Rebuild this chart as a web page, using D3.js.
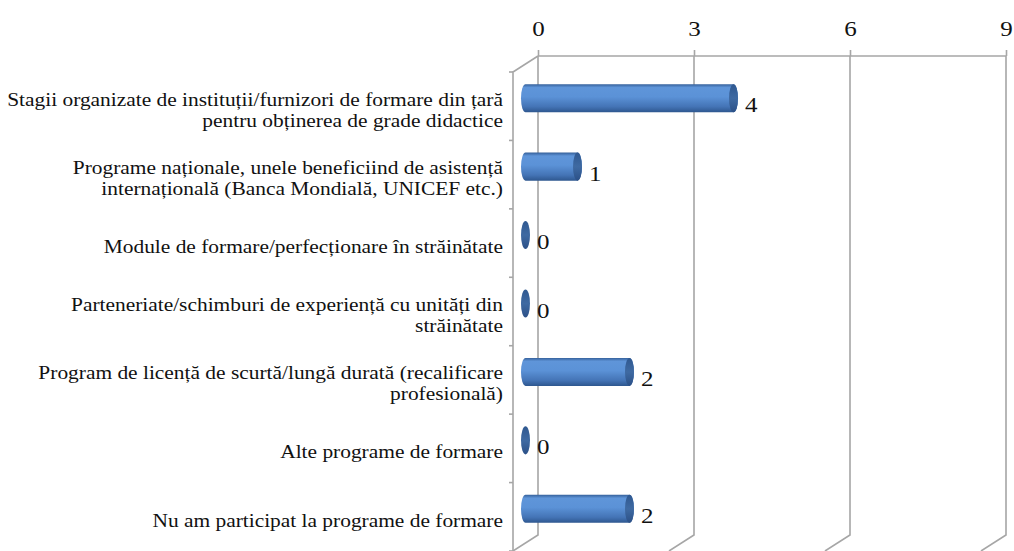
<!DOCTYPE html>
<html>
<head>
<meta charset="utf-8">
<script src="https://cdn.jsdelivr.net/npm/d3@7"></script>
<style>
  body { margin: 0; background: #fff; }
</style>
</head>
<body>
<script>
// chart data
const categories = [
  "Stagii organizate de instituții/furnizori de formare din țară\npentru obținerea de grade didactice",
  "Programe naționale, unele beneficiind de asistență\ninternațională (Banca Mondială, UNICEF etc.)",
  "Module de formare/perfecționare în străinătate",
  "Parteneriate/schimburi de experiență cu unități din\nstrăinătate",
  "Program de licență de scurtă/lungă durată (recalificare\nprofesională)",
  "Alte programe de formare",
  "Nu am participat la programe de formare"
];
const values = [4, 1, 0, 0, 2, 0, 2];
const xTicks = [0, 3, 6, 9];

const WIDTH = 1014;
const HEIGHT = 551;
const BACK_LEFT = 538, BACK_RIGHT = 1006;
const BACK_TOP = 56, BACK_BOTTOM = 535;
const DX = -25, DY = 16;      // depth offset back wall -> front
const BAR_DEPTH = 0.5;        // where the cylinders sit inside the depth
const GRID = "#a6a6a6";
const FONT = "'Liberation Serif', 'Times New Roman', serif";
const STRETCH = 1.19;         // the original picture is stretched sideways

let svg = d3.select("body").append("svg")
  .attr("width", WIDTH)
  .attr("height", HEIGHT)
  .style("font-family", FONT);

let defs = svg.append("defs");
let grad = defs.append("linearGradient")
  .attr("id", "cyl").attr("x1", 0).attr("y1", 0).attr("x2", 0).attr("y2", 1);
[[0, "#35609a"], [0.12, "#5f95d9"], [0.45, "#5b92d7"], [0.8, "#4474b6"], [1, "#2e578f"]]
  .forEach(s => grad.append("stop").attr("offset", s[0]).attr("stop-color", s[1]));
let capGrad = defs.append("linearGradient")
  .attr("id", "cap").attr("x1", 0).attr("y1", 0).attr("x2", 0).attr("y2", 1);
[[0, "#2f5890"], [0.5, "#3f6aa2"], [1, "#2b5087"]]
  .forEach(s => capGrad.append("stop").attr("offset", s[0]).attr("stop-color", s[1]));

let x = d3.scaleLinear().domain([0, 9]).range([BACK_LEFT, BACK_RIGHT]);
let y = d3.scaleBand().domain(categories).range([BACK_TOP, BACK_BOTTOM]);

// walls / gridlines
let walls = svg.append("g").attr("stroke", GRID).attr("stroke-width", 1.6).attr("fill", "none");
walls.append("line")
  .attr("x1", BACK_LEFT).attr("x2", BACK_RIGHT)
  .attr("y1", BACK_TOP).attr("y2", BACK_TOP);
xTicks.forEach(t => {
  walls.append("path")
    .attr("d", `M${x(t)},${BACK_TOP}V${BACK_BOTTOM}l${DX},${DY}`);
});
walls.append("path")
  .attr("d", `M${x(0)},${BACK_TOP}l${DX},${DY}V${BACK_BOTTOM + DY}`);

// category ticks on front edge
let bounds = categories.map(c => y(c)).concat([BACK_BOTTOM]);
walls.selectAll(".ctick").data(bounds).enter().append("line")
  .attr("x1", BACK_LEFT + DX - 4).attr("x2", BACK_LEFT + DX)
  .attr("y1", d => d + DY).attr("y2", d => d + DY);

// top axis
let axis = d3.axisTop(x).tickValues(xTicks).tickSize(6).tickPadding(14);
let axisG = svg.append("g").attr("transform", `translate(0,${BACK_TOP})`).call(axis);
axisG.attr("font-family", null);
axisG.select(".domain").remove();
axisG.selectAll(".tick line").attr("stroke", GRID).attr("stroke-width", 1.6);
axisG.selectAll(".tick text")
  .attr("font-size", 21).attr("fill", "#111")
  .attr("transform", `scale(${STRETCH},1)`)
  .style("font-family", FONT);

// category labels
let labels = svg.append("g");
categories.forEach(c => {
  let lines = c.split("\n");
  let cy = y(c) + y.bandwidth() / 2 + DY + 4;
  let t = labels.append("text")
    .attr("text-anchor", "end")
    .attr("font-size", 18)
    .attr("transform", `translate(503,${cy}) scale(${STRETCH},1)`)
    .style("font-family", FONT)
    .attr("fill", "#111");
  lines.forEach((ln, i) => {
    t.append("tspan")
      .attr("x", 0)
      .attr("y", (i - (lines.length - 1) / 2) * 21 + 6)
      .text(ln);
  });
});

// cylinders
const bx = DX * BAR_DEPTH, by = DY * BAR_DEPTH;
const barH = y.bandwidth() * 0.41;
const rx = 4.5;
let bars = svg.append("g");
categories.forEach((c, i) => {
  let cy = y(c) + y.bandwidth() / 2 + by;
  let x0 = x(0) + bx;
  let x1 = x(values[i]) + bx;
  let g = bars.append("g");
  if (values[i] > 0) {
    g.append("path")
      .attr("d", `M${x0},${cy - barH / 2}H${x1}` +
        `A${rx},${barH / 2} 0 0 1 ${x1},${cy + barH / 2}` +
        `H${x0}A${rx},${barH / 2} 0 0 1 ${x0},${cy - barH / 2}Z`)
      .attr("fill", "url(#cyl)");
  }
  g.append("ellipse")
    .attr("cx", x1).attr("cy", cy)
    .attr("rx", rx).attr("ry", barH / 2)
    .attr("fill", "url(#cap)");
  svg.append("text")
    .attr("transform", `translate(${x1 + rx + 7},${cy + 14}) scale(${STRETCH},1)`)
    .attr("font-size", 21)
    .style("font-family", FONT)
    .attr("fill", "#111")
    .text(values[i]);
});
</script>
</body>
</html>
